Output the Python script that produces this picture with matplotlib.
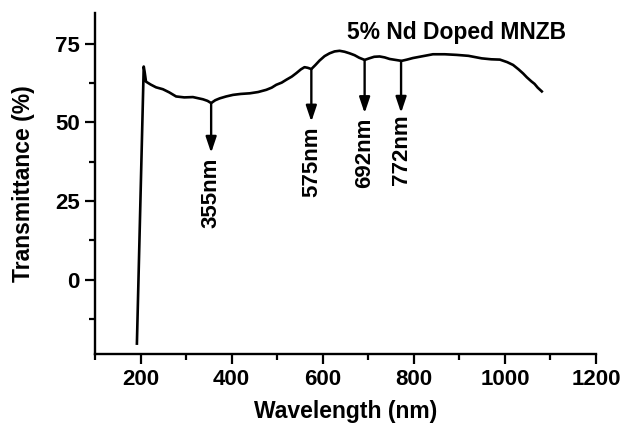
import matplotlib
matplotlib.use("Agg")
import matplotlib.pyplot as plt
from matplotlib.ticker import MultipleLocator

plt.rcParams['font.family'] = ['Liberation Sans', 'DejaVu Sans']
plt.rcParams['font.weight'] = 'bold'

wavelength = [192, 207, 209, 212, 222, 234, 249, 263, 278, 296, 315, 337, 347, 355,
              364, 374, 388, 403, 420, 440, 458, 476, 488, 498, 510, 520, 532, 542,
              552, 560, 567, 575, 584, 593, 604, 615, 626, 637, 648, 659, 670, 680,
              692, 702, 713, 725, 736, 747, 760, 773, 785, 798, 820, 842, 868, 894,
              920, 949, 970, 989, 1005, 1018, 1030, 1040, 1048, 1058, 1065, 1072, 1081]
transmittance = [-20.3, 67.7, 66.0, 62.9, 62.0, 61.1, 60.5, 59.5, 58.2, 57.9, 58.0, 57.3,
                 56.8, 56.1, 57.0, 57.6, 58.2, 58.7, 59.0, 59.2, 59.6, 60.3, 61.0, 61.9,
                 62.6, 63.5, 64.5, 65.6, 66.8, 67.5, 67.3, 66.9, 68.2, 69.6, 71.0, 71.9,
                 72.5, 72.7, 72.4, 71.9, 71.3, 70.5, 69.8, 70.3, 70.8, 70.9, 70.6, 70.1,
                 69.8, 69.5, 69.9, 70.4, 71.0, 71.6, 71.6, 71.4, 71.1, 70.3, 70.0, 69.9,
                 69.1, 68.2, 66.8, 65.5, 64.3, 63.0, 62.2, 61.0, 59.8]

band_wl = [355, 575, 692, 772]
band_labels = ["355nm", "575nm", "692nm", "772nm"]
band_start = [56.1, 66.9, 69.8, 69.5]
band_tip = [40.3, 50.2, 52.9, 53.0]
label_top = [38.9, 48.8, 51.6, 52.4]

title_text = "5% Nd Doped MNZB"
xlabel = "Wavelength (nm)"
ylabel = "Transmittance (%)"
xticks = [200, 400, 600, 800, 1000, 1200]
yticks = [0, 25, 50, 75]

fig = plt.figure(figsize=(6.21, 4.23), dpi=100)
ax = fig.add_axes([95/621, 1 - 354/423, (596 - 95)/621, (354 - 12.7)/423])

ax.plot(wavelength, transmittance, color='black', lw=1.9)

for x, y0, y1, yt, lab in zip(band_wl, band_start, band_tip, label_top, band_labels):
    ax.annotate('', xy=(x, y1), xytext=(x, y0),
                arrowprops=dict(arrowstyle='-|>,head_length=0.95,head_width=0.32',
                                lw=1.7, color='black', shrinkA=0, shrinkB=0))
    ax.text(x, yt, lab, rotation=90, ha='center', va='top', fontsize=16,
            fontweight='bold')

ax.set_xlim(100, 1200)
ax.set_ylim(-23.6, 84.8)
ax.set_xticks(xticks)
ax.set_yticks(yticks)
ax.xaxis.set_minor_locator(MultipleLocator(100))
ax.yaxis.set_minor_locator(MultipleLocator(12.5))
ax.tick_params(which='major', direction='out', length=7, width=1.6, labelsize=16, pad=4)
ax.tick_params(which='minor', direction='out', length=4, width=1.6)
for lbl in ax.get_xticklabels() + ax.get_yticklabels():
    lbl.set_fontweight('bold')

for s in ['top', 'right']:
    ax.spines[s].set_visible(False)
for s in ['left', 'bottom']:
    ax.spines[s].set_linewidth(1.7)

ax.set_xlabel(xlabel, fontsize=16.5, fontweight='bold', labelpad=7)
ax.set_ylabel(ylabel, fontsize=16.5, fontweight='bold', labelpad=14)

fig.text(457/621, 1 - 33/423, title_text, ha='center', va='center', fontsize=16.5,
         fontweight='bold')

fig.savefig("out.png", dpi=100)
